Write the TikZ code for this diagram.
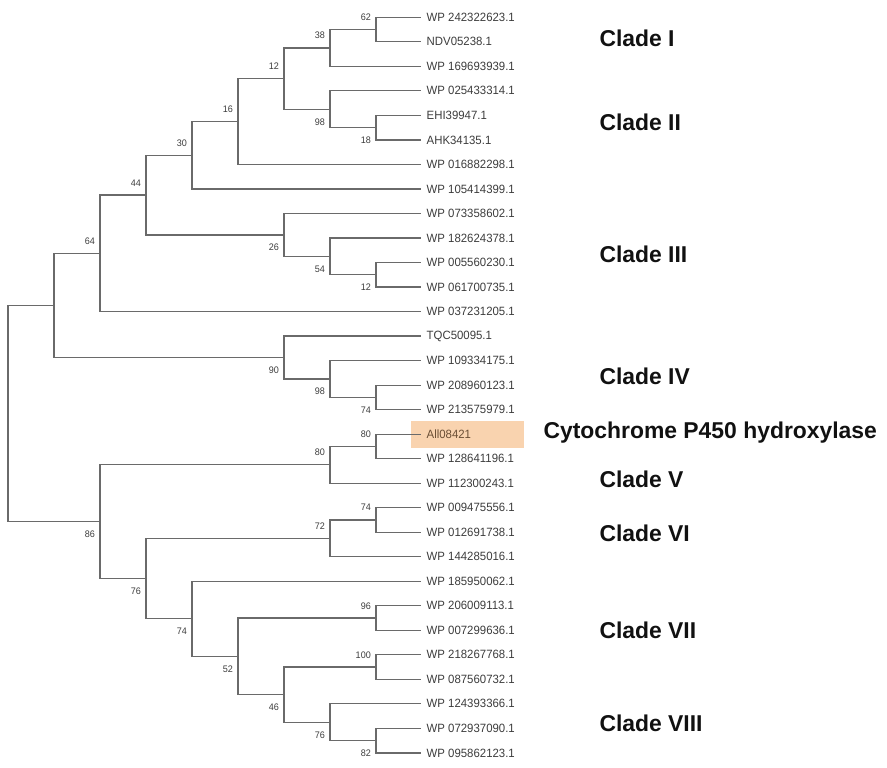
\documentclass[tikz,border=0pt]{standalone}
\usepackage{fontspec}
\setmainfont{Liberation Sans}
\newfontfamily\leaffont[FakeStretch=0.95]{Liberation Sans}
\newfontfamily\cladefont{Liberation Sans}
\definecolor{branch}{HTML}{6A6A6A}
\definecolor{leafgray}{HTML}{3C3C3C}
\definecolor{hilite}{HTML}{F9D3AF}
\definecolor{hitext}{HTML}{6B4F35}
\definecolor{cladeblack}{HTML}{111111}
\tikzset{
  br/.style={draw=branch,line width=1.2bp},
  leaf/.style={anchor=west,inner sep=0pt,text=leafgray,font=\leaffont\fontsize{12bp}{12bp}\selectfont},
  bs/.style={anchor=east,inner sep=0pt,text=leafgray,font=\leaffont\fontsize{9.5bp}{9.5bp}\selectfont},
  clade/.style={anchor=west,inner sep=0pt,text=cladeblack,font=\cladefont\bfseries\fontsize{22.9bp}{23bp}\selectfont}
}
\begin{document}
\begin{tikzpicture}[x=1bp,y=-1bp]
\useasboundingbox (0,0) rectangle (887,768);
% highlight
\fill[hilite] (411,421) rectangle (524.3,448.3);
% leaf tips
\coordinate (t0) at (421,17.3);
\coordinate (t1) at (421,41.82);
\coordinate (t2) at (421,66.34);
\coordinate (t3) at (421,90.86);
\coordinate (t4) at (421,115.38);
\coordinate (t5) at (421,139.9);
\coordinate (t6) at (421,164.42);
\coordinate (t7) at (421,188.94);
\coordinate (t8) at (421,213.46);
\coordinate (t9) at (421,237.98);
\coordinate (t10) at (421,262.5);
\coordinate (t11) at (421,287.02);
\coordinate (t12) at (421,311.54);
\coordinate (t13) at (421,336.06);
\coordinate (t14) at (421,360.58);
\coordinate (t15) at (421,385.1);
\coordinate (t16) at (421,409.62);
\coordinate (t17) at (421,434.14);
\coordinate (t18) at (421,458.66);
\coordinate (t19) at (421,483.18);
\coordinate (t20) at (421,507.7);
\coordinate (t21) at (421,532.22);
\coordinate (t22) at (421,556.74);
\coordinate (t23) at (421,581.26);
\coordinate (t24) at (421,605.78);
\coordinate (t25) at (421,630.3);
\coordinate (t26) at (421,654.82);
\coordinate (t27) at (421,679.34);
\coordinate (t28) at (421,703.86);
\coordinate (t29) at (421,728.38);
\coordinate (t30) at (421,752.9);
% leaf labels
\node[leaf] (L0) at (426.5,17.3) {WP 242322623.1};
\node[leaf] (L1) at (426.5,41.82) {NDV05238.1};
\node[leaf] (L2) at (426.5,66.34) {WP 169693939.1};
\node[leaf] (L3) at (426.5,90.86) {WP 025433314.1};
\node[leaf] (L4) at (426.5,115.38) {EHI39947.1};
\node[leaf] (L5) at (426.5,139.9) {AHK34135.1};
\node[leaf] (L6) at (426.5,164.42) {WP 016882298.1};
\node[leaf] (L7) at (426.5,188.94) {WP 105414399.1};
\node[leaf] (L8) at (426.5,213.46) {WP 073358602.1};
\node[leaf] (L9) at (426.5,237.98) {WP 182624378.1};
\node[leaf] (L10) at (426.5,262.5) {WP 005560230.1};
\node[leaf] (L11) at (426.5,287.02) {WP 061700735.1};
\node[leaf] (L12) at (426.5,311.54) {WP 037231205.1};
\node[leaf] (L13) at (426.5,336.06) {TQC50095.1};
\node[leaf] (L14) at (426.5,360.58) {WP 109334175.1};
\node[leaf] (L15) at (426.5,385.1) {WP 208960123.1};
\node[leaf] (L16) at (426.5,409.62) {WP 213575979.1};
\node[leaf,text=hitext] (L17) at (426.5,434.14) {All08421};
\node[leaf] (L18) at (426.5,458.66) {WP 128641196.1};
\node[leaf] (L19) at (426.5,483.18) {WP 112300243.1};
\node[leaf] (L20) at (426.5,507.7) {WP 009475556.1};
\node[leaf] (L21) at (426.5,532.22) {WP 012691738.1};
\node[leaf] (L22) at (426.5,556.74) {WP 144285016.1};
\node[leaf] (L23) at (426.5,581.26) {WP 185950062.1};
\node[leaf] (L24) at (426.5,605.78) {WP 206009113.1};
\node[leaf] (L25) at (426.5,630.3) {WP 007299636.1};
\node[leaf] (L26) at (426.5,654.82) {WP 218267768.1};
\node[leaf] (L27) at (426.5,679.34) {WP 087560732.1};
\node[leaf] (L28) at (426.5,703.86) {WP 124393366.1};
\node[leaf] (L29) at (426.5,728.38) {WP 072937090.1};
\node[leaf] (L30) at (426.5,752.9) {WP 095862123.1};
% internal nodes
\coordinate (n62) at (376,29.56);
\coordinate (n38) at (330,47.95);
\coordinate (n18) at (376,127.64);
\coordinate (n98) at (330,109.25);
\coordinate (n12) at (284,78.6);
\coordinate (n16) at (238,121.51);
\coordinate (n30) at (192,155.23);
\coordinate (n12b) at (376,274.76);
\coordinate (n54) at (330,256.37);
\coordinate (n26) at (284,234.92);
\coordinate (n44) at (146,195.08);
\coordinate (n64) at (100,253.31);
\coordinate (n74a) at (376,397.36);
\coordinate (n98b) at (330,378.97);
\coordinate (n90) at (284,357.52);
\coordinate (ntop) at (54,305.42);
\coordinate (n80a) at (376,446.4);
\coordinate (n80b) at (330,464.79);
\coordinate (n74b) at (376,519.96);
\coordinate (n72) at (330,538.35);
\coordinate (n96) at (376,618.04);
\coordinate (n100) at (376,667.08);
\coordinate (n82) at (376,740.64);
\coordinate (n76a) at (330,722.25);
\coordinate (n46) at (284,694.67);
\coordinate (n52) at (238,656.35);
\coordinate (n74c) at (192,618.8);
\coordinate (n76b) at (146,578.58);
\coordinate (n86) at (100,521.68);
\coordinate (root) at (8,413.55);
% branches
\draw[br] (n62) |- (t0);   \draw[br] (n62) |- (t1);
\draw[br] (n38) |- (n62);  \draw[br] (n38) |- (t2);
\draw[br] (n18) |- (t4);   \draw[br] (n18) |- (t5);
\draw[br] (n98) |- (t3);   \draw[br] (n98) |- (n18);
\draw[br] (n12) |- (n38);  \draw[br] (n12) |- (n98);
\draw[br] (n16) |- (n12);  \draw[br] (n16) |- (t6);
\draw[br] (n30) |- (n16);  \draw[br] (n30) |- (t7);
\draw[br] (n12b) |- (t10); \draw[br] (n12b) |- (t11);
\draw[br] (n54) |- (t9);   \draw[br] (n54) |- (n12b);
\draw[br] (n26) |- (t8);   \draw[br] (n26) |- (n54);
\draw[br] (n44) |- (n30);  \draw[br] (n44) |- (n26);
\draw[br] (n64) |- (n44);  \draw[br] (n64) |- (t12);
\draw[br] (n74a) |- (t15); \draw[br] (n74a) |- (t16);
\draw[br] (n98b) |- (t14); \draw[br] (n98b) |- (n74a);
\draw[br] (n90) |- (t13);  \draw[br] (n90) |- (n98b);
\draw[br] (ntop) |- (n64); \draw[br] (ntop) |- (n90);
\draw[br] (n80a) |- (t17); \draw[br] (n80a) |- (t18);
\draw[br] (n80b) |- (n80a);\draw[br] (n80b) |- (t19);
\draw[br] (n74b) |- (t20); \draw[br] (n74b) |- (t21);
\draw[br] (n72) |- (n74b); \draw[br] (n72) |- (t22);
\draw[br] (n96) |- (t24);  \draw[br] (n96) |- (t25);
\draw[br] (n100) |- (t26); \draw[br] (n100) |- (t27);
\draw[br] (n82) |- (t29);  \draw[br] (n82) |- (t30);
\draw[br] (n76a) |- (t28); \draw[br] (n76a) |- (n82);
\draw[br] (n46) |- (n100); \draw[br] (n46) |- (n76a);
\draw[br] (n52) |- (n96);  \draw[br] (n52) |- (n46);
\draw[br] (n74c) |- (t23); \draw[br] (n74c) |- (n52);
\draw[br] (n76b) |- (n72); \draw[br] (n76b) |- (n74c);
\draw[br] (n86) |- (n80b); \draw[br] (n86) |- (n76b);
\draw[br] (root) |- (ntop);\draw[br] (root) |- (n86);
% bootstrap values (above = upper child, below = lower child)
\path (n62) ++(-5,-12.3) node[bs] (b62) {62};
\path (n38) ++(-5,-12.3) node[bs] (b38) {38};
\path (n12) ++(-5,-12.3) node[bs] (b12) {12};
\path (n98) ++(-5,12.5) node[bs] (b98) {98};
\path (n18) ++(-5,12.5) node[bs] (b18) {18};
\path (n16) ++(-5,-12.3) node[bs] (b16) {16};
\path (n30) ++(-5,-12.3) node[bs] (b30) {30};
\path (n44) ++(-5,-12.3) node[bs] (b44) {44};
\path (n26) ++(-5,12.5) node[bs] (b26) {26};
\path (n54) ++(-5,12.5) node[bs] (b54) {54};
\path (n12b) ++(-5,12.5) node[bs] (b12b) {12};
\path (n64) ++(-5,-12.3) node[bs] (b64) {64};
\path (n90) ++(-5,12.5) node[bs] (b90) {90};
\path (n98b) ++(-5,12.5) node[bs] (b98b) {98};
\path (n74a) ++(-5,12.5) node[bs] (b74a) {74};
\path (n80a) ++(-5,-12.3) node[bs] (b80a) {80};
\path (n80b) ++(-5,-12.3) node[bs] (b80b) {80};
\path (n74b) ++(-5,-12.3) node[bs] (b74b) {74};
\path (n72) ++(-5,-12.3) node[bs] (b72) {72};
\path (n86) ++(-5,12.5) node[bs] (b86) {86};
\path (n76b) ++(-5,12.5) node[bs] (b76b) {76};
\path (n74c) ++(-5,12.5) node[bs] (b74c) {74};
\path (n96) ++(-5,-12.3) node[bs] (b96) {96};
\path (n52) ++(-5,12.5) node[bs] (b52) {52};
\path (n100) ++(-5,-12.3) node[bs] (b100) {100};
\path (n46) ++(-5,12.5) node[bs] (b46) {46};
\path (n76a) ++(-5,12.5) node[bs] (b76a) {76};
\path (n82) ++(-5,12.5) node[bs] (b82) {82};
% clade labels
\node[clade] (cI) at (599.3,38) {Clade I};
\node[clade] (cII) at (599.3,122) {Clade II};
\node[clade] (cIII) at (599.3,254) {Clade III};
\node[clade] (cIV) at (599.3,376) {Clade IV};
\node[clade] (cyp) at (543.3,433) {Cytochrome P450 hydroxylase};
\node[clade] (cV) at (599.3,479) {Clade V};
\node[clade] (cVI) at (599.3,533.5) {Clade VI};
\node[clade] (cVII) at (599.3,630) {Clade VII};
\node[clade] (cVIII) at (599.3,723) {Clade VIII};
\end{tikzpicture}
\end{document}
